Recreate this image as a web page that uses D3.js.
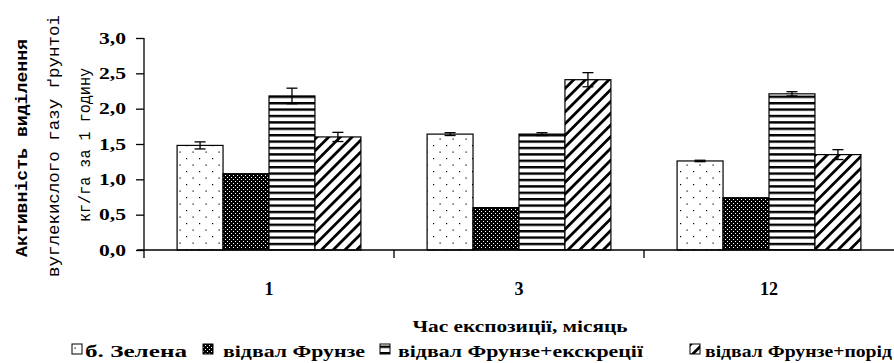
<!DOCTYPE html>
<html lang="uk">
<head>
    <meta charset="UTF-8">
    <title>Активність виділення вуглекислого газу</title>
    <script src="https://cdn.jsdelivr.net/npm/d3@7"></script>
    <style>
        body { margin: 0; background: #fff; }
        svg text { font-family: "Liberation Serif", "Times New Roman", Tinos, "DejaVu Serif", serif; font-weight: bold; fill: #000; }
        svg text.mono { font-family: "Liberation Mono", "Courier New", Cousine, "DejaVu Sans Mono", monospace; }
    </style>
</head>
<body>
    <svg id="mainsvg" width="894" height="363"></svg>
    <script>
        // дані
        const categories = ["1", "3", "12"];
        const seriesNames = ["б. Зелена", "відвал Фрунзе", "відвал Фрунзе+екскреції", "відвал Фрунзе+порід"];
        const zelena = [1.48, 1.64, 1.26];
        const frunze = [1.08, 0.60, 0.74];
        const frunzeEks = [2.18, 1.64, 2.21];
        const frunzePorid = [1.60, 2.41, 1.35];
        const errZelena = [0.05, 0.02, 0.01];
        const errFrunze = [0, 0, 0];
        const errFrunzeEks = [0.11, 0.02, 0.03];
        const errFrunzePorid = [0.065, 0.1, 0.07];
        const yTicks = [0, 0.5, 1, 1.5, 2, 2.5, 3];
        const yTitle = ["Активність виділення", "вуглекислого газу  ґрунтоі", "кг/га за 1 годину"];
        const xTitle = "Час експозиції, місяць";

        const values = [zelena, frunze, frunzeEks, frunzePorid];
        const errors = [errZelena, errFrunze, errFrunzeEks, errFrunzePorid];

        const svg = d3.select("svg");
        const width = +svg.attr("width");
        const margin = {top: 38, right: 0, bottom: 113, left: 144};
        const height = +svg.attr("height");
        const innerWidth = width - margin.left - margin.right;
        const innerHeight = height - margin.top - margin.bottom;

        // візерунки
        const defs = svg.append("defs");
        const p0 = defs.append("pattern").attr("id", "pat0").attr("patternUnits", "userSpaceOnUse")
            .attr("width", 13).attr("height", 13);
        p0.append("rect").attr("width", 13).attr("height", 13).attr("fill", "#fff");
        p0.append("rect").attr("x", 3).attr("y", 3).attr("width", 1.2).attr("height", 1.2).attr("fill", "#000");
        p0.append("rect").attr("x", 9.5).attr("y", 9.5).attr("width", 1.2).attr("height", 1.2).attr("fill", "#000");

        const p1 = defs.append("pattern").attr("id", "pat1").attr("patternUnits", "userSpaceOnUse")
            .attr("width", 4).attr("height", 4);
        p1.append("rect").attr("width", 4).attr("height", 4).attr("fill", "#000");
        p1.append("rect").attr("x", 1).attr("y", 1).attr("width", 1).attr("height", 1).attr("fill", "#fff");
        p1.append("rect").attr("x", 3).attr("y", 3).attr("width", 1).attr("height", 1).attr("fill", "#fff");

        const p2 = defs.append("pattern").attr("id", "pat2").attr("patternUnits", "userSpaceOnUse")
            .attr("width", 8).attr("height", 6.4);
        p2.append("rect").attr("width", 8).attr("height", 6.4).attr("fill", "#fff");
        p2.append("rect").attr("y", 0).attr("width", 8).attr("height", 2.4).attr("fill", "#000");

        const p3 = defs.append("pattern").attr("id", "pat3").attr("patternUnits", "userSpaceOnUse")
            .attr("width", 8.3).attr("height", 8.3).attr("patternTransform", "rotate(45)");
        p3.append("rect").attr("width", 8.3).attr("height", 8.3).attr("fill", "#fff");
        p3.append("rect").attr("x", 0).attr("width", 2.8).attr("height", 8.3).attr("fill", "#000");

        const fills = ["url(#pat0)", "url(#pat1)", "url(#pat2)", "url(#pat3)"];

        const g = svg.append("g")
            .attr("id", "maingroup")
            .attr("transform", `translate(${margin.left}, ${margin.top})`);

        const x0 = d3.scaleBand().domain(categories).range([0, innerWidth]).padding(0);
        const x1 = d3.scaleBand().domain(d3.range(seriesNames.length))
            .range([0, x0.bandwidth()]).paddingInner(0).paddingOuter(0.72);
        const y = d3.scaleLinear().domain([0, 3]).range([innerHeight, 0]);

        const rows = [];
        categories.forEach((c, ci) => {
            values.forEach((s, si) => {
                rows.push({cat: c, s: si, v: s[ci], e: errors[si][ci]});
            });
        });

        // стовпці
        g.selectAll(".bar")
            .data(rows)
            .join("rect")
            .attr("class", "bar")
            .attr("x", d => x0(d.cat) + x1(d.s))
            .attr("y", d => y(d.v))
            .attr("width", x1.bandwidth())
            .attr("height", d => y(0) - y(d.v))
            .attr("fill", d => fills[d.s])
            .attr("stroke", "#000")
            .attr("stroke-width", 1.2);

        // похибки
        const errG = g.selectAll(".err")
            .data(rows.filter(d => d.e > 0))
            .join("g")
            .attr("class", "err")
            .attr("transform", d => `translate(${x0(d.cat) + x1(d.s) + x1.bandwidth() / 2}, 0)`);
        errG.append("line")
            .attr("y1", d => y(d.v + d.e)).attr("y2", d => y(d.v - d.e))
            .attr("stroke", "#000").attr("stroke-width", 1.3);
        errG.append("line")
            .attr("x1", -5.5).attr("x2", 5.5)
            .attr("y1", d => y(d.v + d.e)).attr("y2", d => y(d.v + d.e))
            .attr("stroke", "#000").attr("stroke-width", 1.3);
        errG.append("line")
            .attr("x1", -5.5).attr("x2", 5.5)
            .attr("y1", d => y(d.v - d.e)).attr("y2", d => y(d.v - d.e))
            .attr("stroke", "#000").attr("stroke-width", 1.3);

        // вісь Y
        const yAxis = d3.axisLeft(y)
            .tickValues(yTicks)
            .tickSize(8)
            .tickPadding(10)
            .tickFormat(d => d3.format(".1f")(d).replace(".", ","));
        const yg = g.append("g").call(yAxis);
        yg.attr("font-family", null).attr("font-size", null);
        yg.select(".domain").attr("stroke", "#000").attr("stroke-width", 1.3).attr("d", `M0,${y(3)}V${y(0)}`);
        yg.selectAll(".tick line").attr("stroke", "#000").attr("stroke-width", 1.3);
        yg.selectAll(".tick text")
            .style("font-size", "16px")
            .attr("textLength", 27)
            .attr("lengthAdjust", "spacingAndGlyphs");

        // вісь X
        const xAxis = d3.axisBottom(x0).tickSize(0).tickPadding(32);
        const xg = g.append("g").attr("transform", `translate(0, ${innerHeight})`).call(xAxis);
        xg.attr("font-family", null).attr("font-size", null);
        xg.select(".domain").attr("stroke", "#000").attr("stroke-width", 1.3)
            .attr("d", `M-7,0H${innerWidth}`);
        xg.selectAll(".tick text")
            .style("font-size", "18px");
        // поділки між категоріями
        g.append("g").selectAll("line")
            .data(categories)
            .join("line")
            .attr("x1", d => x0(d)).attr("x2", d => x0(d))
            .attr("y1", innerHeight).attr("y2", innerHeight + 8)
            .attr("stroke", "#000").attr("stroke-width", 1.3);

        // назва осі X
        svg.append("text")
            .attr("x", 520).attr("y", 332)
            .attr("text-anchor", "middle")
            .style("font-size", "16px")
            .attr("textLength", 215)
            .attr("lengthAdjust", "spacingAndGlyphs")
            .text(xTitle);

        // назва осі Y
        const yTitlePos = [
            {x: 27, y: 148, len: 218, size: 17, weight: "bold"},
            {x: 59, y: 146, len: 262, size: 16, weight: "normal"},
            {x: 90, y: 145, len: 154, size: 16, weight: "normal"}
        ];
        svg.append("g").selectAll("text")
            .data(yTitle)
            .join("text")
            .attr("class", "mono")
            .attr("transform", (d, i) => `translate(${yTitlePos[i].x}, ${yTitlePos[i].y}) rotate(-90)`)
            .attr("text-anchor", "middle")
            .style("font-weight", (d, i) => yTitlePos[i].weight)
            .style("font-size", (d, i) => yTitlePos[i].size + "px")
            .attr("textLength", (d, i) => yTitlePos[i].len)
            .attr("lengthAdjust", "spacingAndGlyphs")
            .text(d => d);

        // легенда
        const legendPos = [
            {box: 72, text: 85, len: 102},
            {box: 203, text: 223, len: 142},
            {box: 380, text: 398, len: 245},
            {box: 690, text: 705, len: 187}
        ];
        const legend = svg.append("g").selectAll("g")
            .data(seriesNames)
            .join("g");
        legend.append("rect")
            .attr("x", (d, i) => legendPos[i].box)
            .attr("y", 344)
            .attr("width", 10).attr("height", 10)
            .attr("fill", (d, i) => fills[i])
            .attr("stroke", "#000").attr("stroke-width", 1);
        legend.append("text")
            .attr("x", (d, i) => legendPos[i].text)
            .attr("y", 357)
            .style("font-size", "16px")
            .attr("textLength", (d, i) => legendPos[i].len)
            .attr("lengthAdjust", "spacingAndGlyphs")
            .text(d => d);
    </script>
</body>
</html>
